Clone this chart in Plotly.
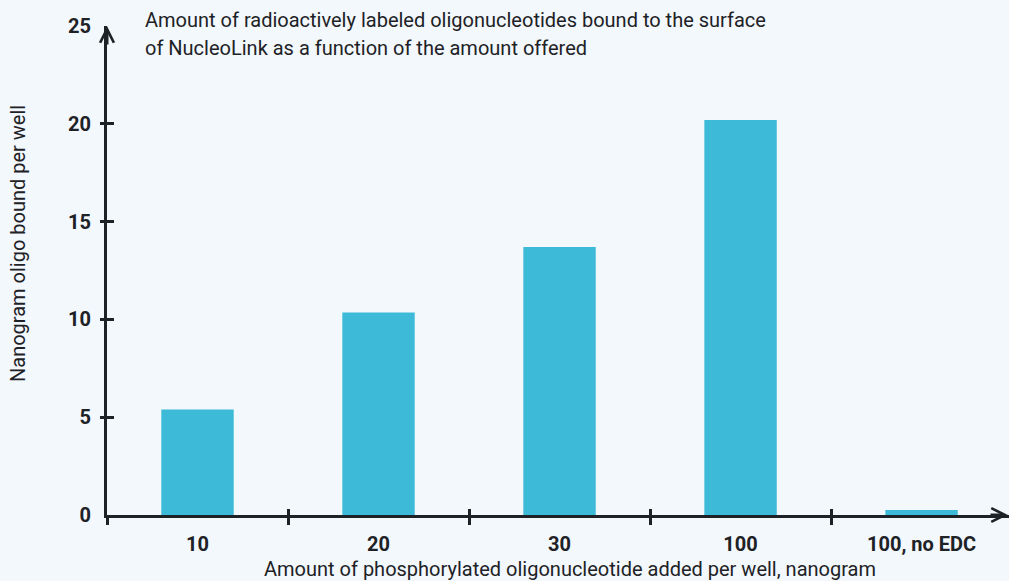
import plotly.graph_objects as go

categories = ["10", "20", "30", "100", "100, no EDC"]
values = [5.4, 10.35, 13.7, 20.2, 0.25]
y_ticks = [0, 5, 10, 15, 20, 25]
y_marks = [5, 10, 15, 20]
title_lines = ["Amount of radioactively labeled oligonucleotides bound to the surface",
               "of NucleoLink as a function of the amount offered"]
x_title = "Amount of phosphorylated oligonucleotide added per well, nanogram"
y_title = "Nanogram oligo bound per well"

BG = "#F2F8FC"
BAR = "#3DBAD8"
INK = "#1E2226"
FONT = "Roboto, sans-serif"

W, H = 1009, 581
ML, MR, MT, MB = 107, 0, 26, 66
XR = [-0.5, 4.483]

fig = go.Figure()
fig.add_trace(go.Bar(x=categories, y=values, marker=dict(color=BAR, line=dict(width=0)),
                     width=0.4, hoverinfo="skip"))
fig.add_trace(go.Scatter(x=categories, y=values, xaxis="x2", yaxis="y2",
                         mode="markers", marker=dict(opacity=0), hoverinfo="skip",
                         showlegend=False))
fig.add_trace(go.Scatter(x=categories, y=values, yaxis="y3", mode="markers",
                         marker=dict(opacity=0), hoverinfo="skip", showlegend=False))

axis_common = dict(showgrid=False, zeroline=False)
fig.update_layout(
    width=W, height=H,
    paper_bgcolor=BG, plot_bgcolor=BG,
    margin=dict(l=ML, r=MR, t=MT, b=MB),
    showlegend=False,
    font=dict(family=FONT, color=INK),
    xaxis=dict(**axis_common, type="category", range=XR,
               showline=True, linecolor=INK, linewidth=3,
               ticks="outside", tickson="boundaries", ticklen=7, tickwidth=3, tickcolor=INK,
               tickfont=dict(size=20, family=FONT, weight="bold", color=INK),
               ticklabelstandoff=9),
    yaxis=dict(**axis_common, range=[0, 25], tickvals=y_ticks,
               showline=True, linecolor=INK, linewidth=3, ticks="",
               tickfont=dict(size=20, family=FONT, weight="bold", color=INK),
               ticklabelstandoff=9),
    xaxis2=dict(**axis_common, type="category", range=XR, overlaying="x",
                showline=False, ticks="inside", tickson="boundaries", ticklen=6, tickwidth=3,
                tickcolor=INK, showticklabels=False),
    yaxis2=dict(**axis_common, range=[0, 25], overlaying="y", tickvals=y_marks,
                showline=False, ticks="inside", ticklen=7, tickwidth=3, tickcolor=INK,
                showticklabels=False),
    yaxis3=dict(**axis_common, range=[0, 25], overlaying="y", tickvals=y_marks,
                showline=False, ticks="outside", ticklen=6, tickwidth=3,
                tickcolor=INK, showticklabels=False),
)

# arrows at the axis ends
fig.add_annotation(xref="paper", yref="paper", x=0, y=1.0, ax=0, ay=20,
                   showarrow=True, arrowhead=5, arrowsize=0.9, arrowwidth=3, arrowcolor=INK, text="")
fig.add_annotation(xref="paper", yref="paper", x=1.0, y=0, ax=-20, ay=0,
                   showarrow=True, arrowhead=5, arrowsize=0.9, arrowwidth=3, arrowcolor=INK, text="")

pw = W - ML - MR
ph = H - MT - MB
def px_x(p):
    return (p - ML) / pw
def px_y(p):
    return (H - MB - p) / ph

# chart title (two lines)
for i, line in enumerate(title_lines):
    fig.add_annotation(xref="paper", yref="paper", x=px_x(143), y=px_y(20 + 28 * i),
                       xanchor="left", yanchor="middle", showarrow=False,
                       text=line, font=dict(size=20, family=FONT, color=INK))

# axis titles
fig.add_annotation(xref="paper", yref="paper", x=px_x(570), y=px_y(569),
                   xanchor="center", yanchor="middle", showarrow=False,
                   text=x_title, font=dict(size=20, family=FONT, color=INK))
fig.add_annotation(xref="paper", yref="paper", x=px_x(18), y=px_y(244),
                   xanchor="center", yanchor="middle", showarrow=False, textangle=-90,
                   text=y_title, font=dict(size=20, family=FONT, color=INK))

fig.write_html("out.html", config={"displayModeBar": False},
               post_script="document.body.style.margin='0';document.body.style.overflow='hidden';")
